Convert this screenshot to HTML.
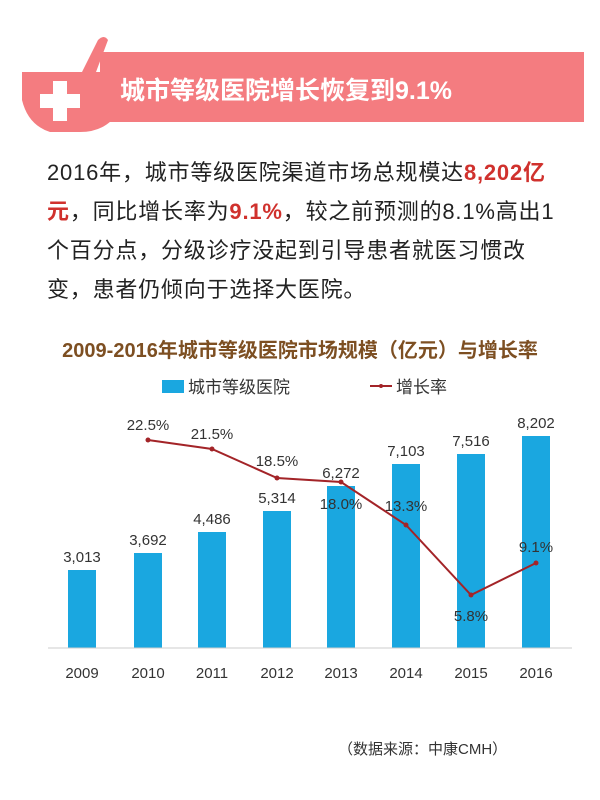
<!DOCTYPE html>
<html><head><meta charset="utf-8"><style>
body{margin:0;width:600px;height:800px;background:#fff;overflow:hidden;font-family:"Liberation Sans","Noto Sans CJK SC",sans-serif;position:relative}
.p{position:absolute;left:47px;top:153px;width:560px;font-size:22px;letter-spacing:0.8px;line-height:39px;color:#222;white-space:nowrap}
.r{color:#d0312d;font-weight:bold}
</style></head><body>
<svg width="600" height="800" style="position:absolute;left:0;top:0" font-family="Liberation Sans, Noto Sans CJK SC, sans-serif">
<rect x="100" y="52" width="484" height="70" fill="#f47c80"/>
<path d="M22 72 L112 72 L112 120 Q100 132 80 132 L50 132 Q28 125 22 100 Z" fill="#f47c80"/>
<path d="M82 72 L98 40 Q104 34 108 40 L96 72 Z" fill="#f47c80"/>
<rect x="53" y="81" width="14" height="40" fill="#fff"/><rect x="40" y="94" width="40" height="14" fill="#fff"/>
<text x="120" y="99" font-size="25" font-weight="bold" fill="#fff">城市等级医院增长恢复到9.1%</text>
<text x="300" y="357" text-anchor="middle" font-size="20" font-weight="bold" fill="#7d4f22">2009-2016年城市等级医院市场规模（亿元）与增长率</text>
<rect x="162" y="380" width="22" height="13" fill="#1aa7e0"/>
<text x="188" y="393" font-size="17" fill="#333">城市等级医院</text>
<line x1="370" y1="386" x2="392" y2="386" stroke="#a32428" stroke-width="2"/><circle cx="381" cy="386" r="2" fill="#a32428"/>
<text x="396" y="393" font-size="17" fill="#333">增长率</text>
<g fill="#1aa7e0">
<rect x="68" y="570" width="28" height="78"/><rect x="134" y="553" width="28" height="95"/><rect x="198" y="532" width="28" height="116"/><rect x="263" y="511" width="28" height="137"/><rect x="327" y="486" width="28" height="162"/><rect x="392" y="464" width="28" height="184"/><rect x="457" y="454" width="28" height="194"/><rect x="522" y="436" width="28" height="212"/>
</g>
<line x1="48" y1="648" x2="572" y2="648" stroke="#ccc"/>
<g font-size="15" fill="#333" text-anchor="middle">
<text x="82" y="562">3,013</text><text x="148" y="545">3,692</text><text x="212" y="524">4,486</text><text x="277" y="503">5,314</text><text x="341" y="478">6,272</text><text x="406" y="456">7,103</text><text x="471" y="446">7,516</text><text x="536" y="428">8,202</text>
<text x="148" y="430">22.5%</text><text x="212" y="439">21.5%</text><text x="277" y="466">18.5%</text><text x="341" y="509">18.0%</text><text x="406" y="511">13.3%</text><text x="471" y="621">5.8%</text><text x="536" y="552">9.1%</text>
<text x="82" y="678">2009</text><text x="148" y="678">2010</text><text x="212" y="678">2011</text><text x="277" y="678">2012</text><text x="341" y="678">2013</text><text x="406" y="678">2014</text><text x="471" y="678">2015</text><text x="536" y="678">2016</text>
</g>
<polyline points="148,440 212,449 277,478 341,482 406,525 471,595 536,563" fill="none" stroke="#a32428" stroke-width="2"/>
<g fill="#a32428"><circle cx="148" cy="440" r="2.5"/><circle cx="212" cy="449" r="2.5"/><circle cx="277" cy="478" r="2.5"/><circle cx="341" cy="482" r="2.5"/><circle cx="406" cy="525" r="2.5"/><circle cx="471" cy="595" r="2.5"/><circle cx="536" cy="563" r="2.5"/></g>
<text x="338" y="754" font-size="15" fill="#333">（数据来源：中康CMH）</text>
</svg>
<div class="p">2016年，城市等级医院渠道市场总规模达<span class="r">8,202亿</span><br><span class="r">元</span>，同比增长率为<span class="r">9.1%</span>，较之前预测的8.1%高出1<br>个百分点，分级诊疗没起到引导患者就医习惯改<br>变，患者仍倾向于选择大医院。</div>
</body></html>
